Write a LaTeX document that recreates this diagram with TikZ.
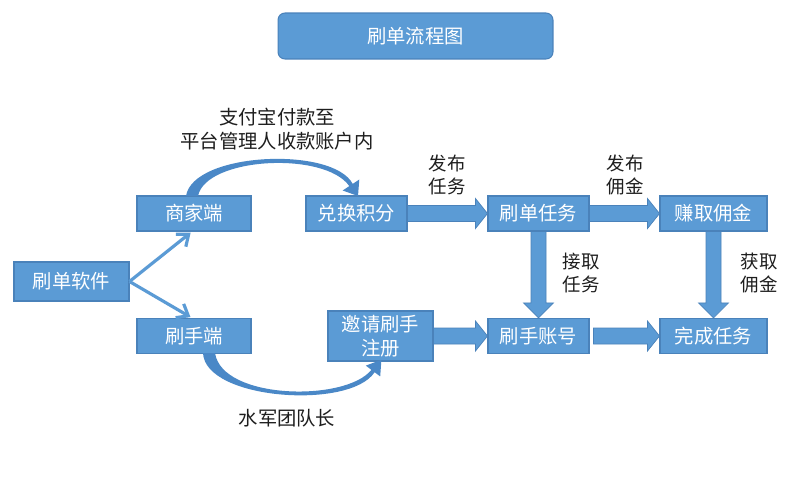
\documentclass[tikz,border=0pt]{standalone}
\usepackage{fontspec}
\newfontfamily\cjk{Noto Sans CJK SC}
\usetikzlibrary{arrows.meta,calc}
\definecolor{boxblue}{HTML}{5B9BD5}
\definecolor{boxline}{HTML}{4A82BA}
\definecolor{arcblue}{HTML}{4A88C7}
\definecolor{labelgray}{HTML}{1E1E1E}
\newcommand{\fatarrowh}[3][0]{\path[fatarrow] ($(#2.east)+(#1,-8)$) -- ($(#3.west)+(-12,-8)$) -- ($(#3.west)+(-12,-15)$) -- (#3.west) -- ($(#3.west)+(-12,15)$) -- ($(#3.west)+(-12,8)$) -- ($(#2.east)+(#1,8)$) -- cycle;}
\newcommand{\fatarrowv}[2]{\path[fatarrow] ($(#1.south)+(-7.5,0)$) -- ($(#2.north)+(-7.5,-15)$) -- ($(#2.north)+(-15,-15)$) -- (#2.north) -- ($(#2.north)+(15,-15)$) -- ($(#2.north)+(7.5,-15)$) -- ($(#1.south)+(7.5,0)$) -- cycle;}
\begin{document}
\begin{tikzpicture}[x=0.02cm,y=-0.02cm,
  box/.style={draw=boxline,line width=0.6pt,fill=boxblue,text=white,inner sep=0pt,minimum height=0.7cm,align=center,font=\cjk\fontsize{11}{13.6}\selectfont},
  titlebox/.style={box,rounded corners=0.14cm,minimum width=5.5cm,minimum height=0.92cm},
  lbl/.style={text=labelgray,align=center,inner sep=0pt,font=\cjk\fontsize{10.5}{13.6}\selectfont},
  biglbl/.style={lbl,font=\cjk\fontsize{11}{13.6}\selectfont},
  fatarrow/.style={fill=boxblue,draw=boxline,line width=0.4pt},
  arcarrow/.style={fill=arcblue,draw=none},
  thinarrow/.style={draw=boxblue,line width=1.8pt,-{Straight Barb[length=0.2cm,width=0.32cm,line width=1.8pt]},shorten >=1pt}]
\useasboundingbox (0,0) rectangle (800,490);
\fill[white] (0,0) rectangle (800,490);

\node[titlebox] (title) at (415.5,36) {刷单流程图};

\node[box,minimum width=2.3cm,minimum height=0.78cm] (sd) at (71.5,281.5) {刷单软件};
\node[box,minimum width=2.28cm] (sj) at (194,213.5) {商家端};
\node[box,minimum width=2.28cm] (ss) at (194,336) {刷手端};
\node[box,minimum width=2.02cm] (dh) at (356.5,213.5) {兑换积分};
\node[box,minimum width=2.1cm,minimum height=1.0cm] (yq) at (380.5,336) {邀请刷手\\注册};
\node[box,minimum width=2.02cm] (rw) at (538.5,213.5) {刷单任务};
\node[box,minimum width=2.14cm] (zq) at (713.5,213.5) {赚取佣金};
\node[box,minimum width=2.02cm] (zh) at (538.5,336) {刷手账号};
\node[box,minimum width=2.14cm] (wc) at (713.5,336) {完成任务};

% thin arrows
\draw[thinarrow] (sd.east) -- ($(sj.south)+(-2,0)$);
\draw[thinarrow] (sd.east) -- ($(ss.north)+(-2,0)$);

% block arrows
\fatarrowh{dh}{rw}
\fatarrowh{rw}{zq}
\fatarrowh{yq}{zh}
\fatarrowh[4]{zh}{wc}
\fatarrowv{rw}{zh}
\fatarrowv{zq}{wc}

% curved arrows
\path[arcarrow] (186,196) .. controls (193,152) and (333,146) .. (352.7,183.9) -- (359.3,179.5) -- (358,196) -- (342.7,190.5) -- (349.3,186.1) .. controls (325,151) and (206,157) .. (198,196) -- cycle;
\path[arcarrow] (203,353) .. controls (205,400) and (350,410) .. (374.6,372.2) -- (380.2,376.4) -- (381.4,359.8) -- (365.8,365.6) -- (371.4,369.8) .. controls (346,402) and (222,400) .. (215,353) -- cycle;

% labels
\node[biglbl] (pay) at (277,129) {支付宝付款至\\平台管理人收款账户内};
\node[biglbl] (sjz) at (287,418) {水军团队长};
\node[lbl] (fbrw) at (447,175) {发布\\任务};
\node[lbl] (fbyj) at (625,175) {发布\\佣金};
\node[lbl] (jqrw) at (581,273) {接取\\任务};
\node[lbl] (hqyj) at (759,273) {获取\\佣金};
\end{tikzpicture}
\end{document}
